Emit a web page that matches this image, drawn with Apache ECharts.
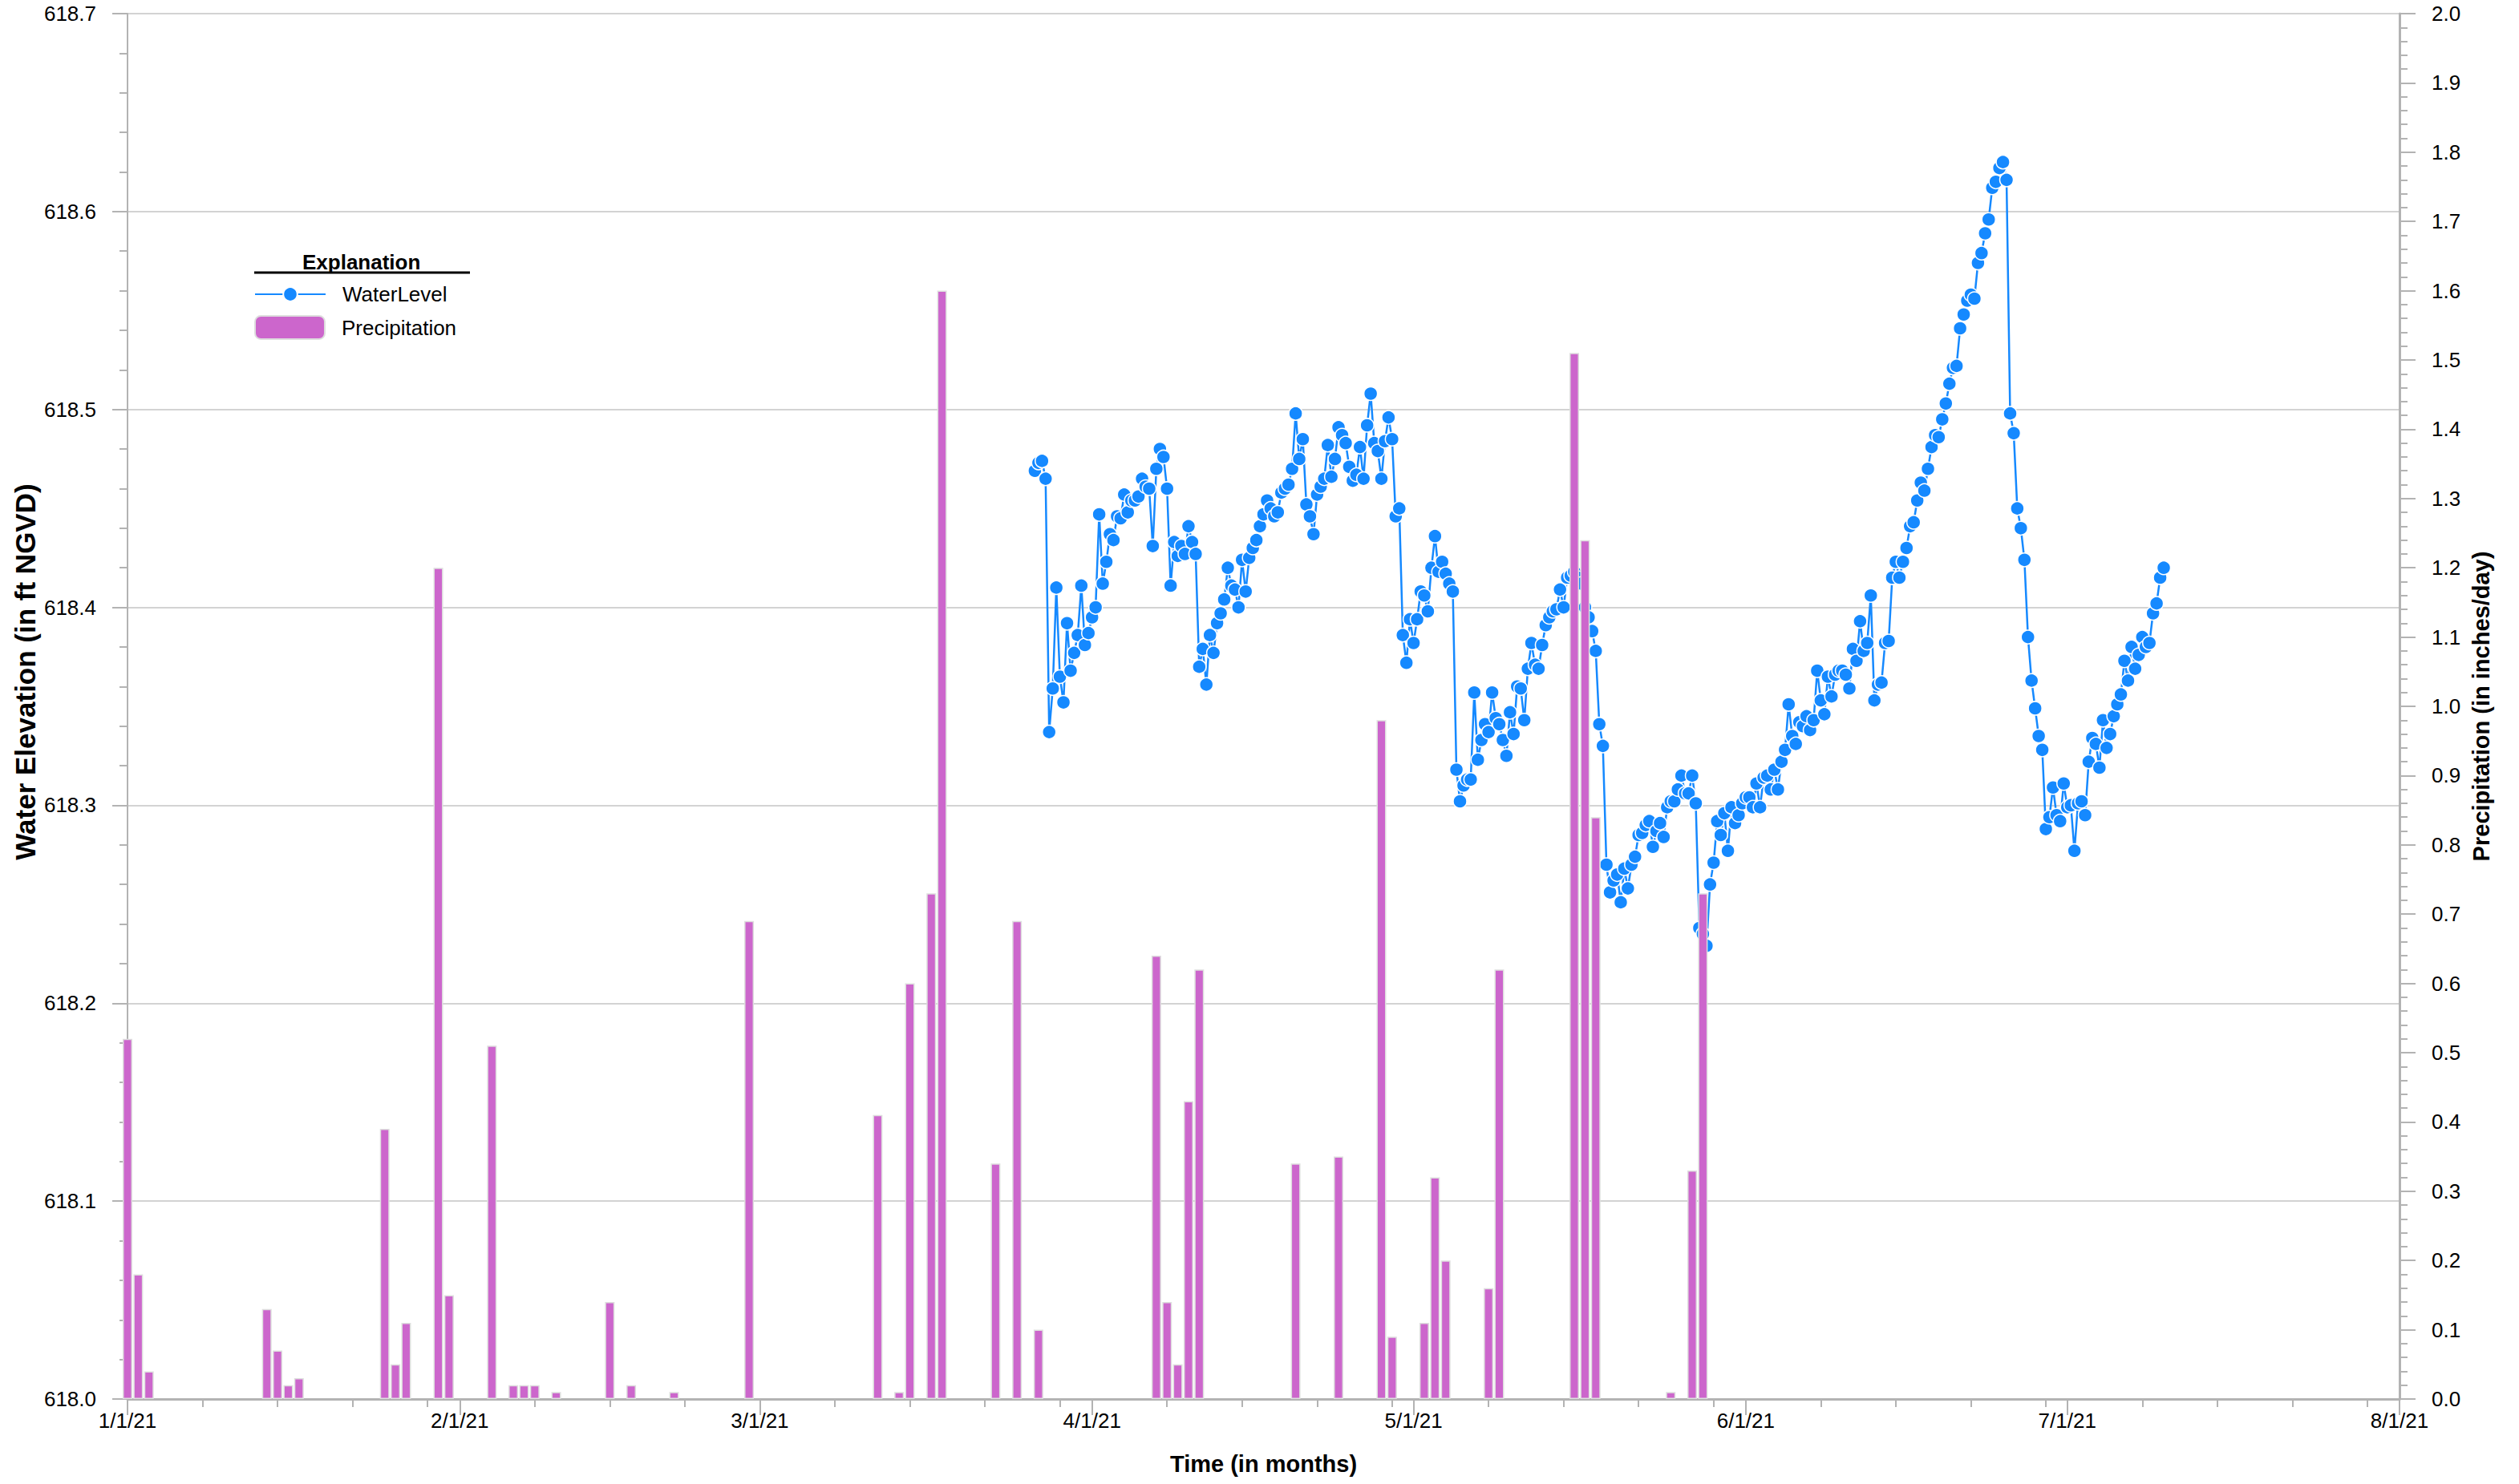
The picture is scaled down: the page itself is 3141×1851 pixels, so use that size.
<!DOCTYPE html>
<html>
<head>
<meta charset="utf-8">
<title>Water Level and Precipitation</title>
<script src="https://cdn.jsdelivr.net/npm/echarts@6/dist/echarts.min.js"></script>
<style>
  html, body { margin: 0; padding: 0; background: #ffffff; }
  #chart { width: 3141px; height: 1851px; }
</style>
</head>
<body>
<div id="chart"></div>
<script>
// Month boundaries on the time axis and their labels
const monthTicks = ['2021-01-01', '2021-02-01', '2021-03-01', '2021-04-01', '2021-05-01', '2021-06-01', '2021-07-01', '2021-08-01'];
const monthLabels = ['1/1/21', '2/1/21', '3/1/21', '4/1/21', '5/1/21', '6/1/21', '7/1/21', '8/1/21'];
// Days of each month that carry a small weekly tick
const weekTickDays = [8, 15, 22, 29];

// Daily precipitation (inches/day); days without rain are omitted
const precipDates = [
  '2021-01-01', '2021-01-02', '2021-01-03', '2021-01-14', '2021-01-15', '2021-01-16', '2021-01-17',
  '2021-01-25', '2021-01-26', '2021-01-27', '2021-01-30', '2021-01-31',
  '2021-02-04', '2021-02-06', '2021-02-07', '2021-02-08', '2021-02-10', '2021-02-15', '2021-02-17',
  '2021-02-21', '2021-02-28',
  '2021-03-12', '2021-03-14', '2021-03-15', '2021-03-17', '2021-03-18', '2021-03-23', '2021-03-25', '2021-03-27',
  '2021-04-07', '2021-04-08', '2021-04-09', '2021-04-10', '2021-04-11', '2021-04-20', '2021-04-24',
  '2021-04-28', '2021-04-29',
  '2021-05-02', '2021-05-03', '2021-05-04', '2021-05-08', '2021-05-09', '2021-05-16', '2021-05-17',
  '2021-05-18', '2021-05-25', '2021-05-27', '2021-05-28'
];
const precipValues = [
  0.52, 0.18, 0.04, 0.13, 0.07, 0.02, 0.03,
  0.39, 0.05, 0.11, 1.20, 0.15,
  0.51, 0.02, 0.02, 0.02, 0.01, 0.14, 0.02,
  0.01, 0.69,
  0.41, 0.01, 0.60, 0.73, 1.60, 0.34, 0.69, 0.10,
  0.64, 0.14, 0.05, 0.43, 0.62, 0.34, 0.35,
  0.98, 0.09,
  0.11, 0.32, 0.20, 0.16, 0.62, 1.51, 1.24,
  0.84, 0.01, 0.33, 0.73
];

// Water level record (ft NGVD), logged every 8 hours from the start time
const levelStart = [2021, 3, 26, 16];
const levelStepHours = 8;
const levelValues = [
  618.469, 618.473, 618.474, 618.465, 618.337, 618.359, 618.410, 618.365, 618.352, 618.392,
  618.368, 618.377, 618.386, 618.411, 618.381, 618.387, 618.395, 618.400, 618.447, 618.412,
  618.423, 618.437, 618.434, 618.446, 618.445, 618.457, 618.448, 618.454, 618.454, 618.456,
  618.465, 618.461, 618.460, 618.431, 618.470, 618.480, 618.476, 618.460, 618.411, 618.433,
  618.426, 618.431, 618.427, 618.441, 618.433, 618.427, 618.370, 618.379, 618.361, 618.386,
  618.377, 618.392, 618.397, 618.404, 618.420, 618.411, 618.409, 618.400, 618.424, 618.408,
  618.425, 618.430, 618.434, 618.441, 618.447, 618.454, 618.450, 618.446, 618.448, 618.458,
  618.460, 618.462, 618.470, 618.498, 618.475, 618.485, 618.452, 618.446, 618.437, 618.457,
  618.461, 618.465, 618.482, 618.466, 618.475, 618.491, 618.487, 618.483, 618.471, 618.464,
  618.467, 618.481, 618.465, 618.492, 618.508, 618.483, 618.479, 618.465, 618.484, 618.496,
  618.485, 618.446, 618.450, 618.386, 618.372, 618.394, 618.382, 618.394, 618.408, 618.406,
  618.398, 618.420, 618.436, 618.418, 618.423, 618.417, 618.412, 618.408, 618.318, 618.302,
  618.310, 618.313, 618.313, 618.357, 618.323, 618.333, 618.341, 618.337, 618.357, 618.344,
  618.341, 618.333, 618.325, 618.347, 618.336, 618.360, 618.359, 618.343, 618.369, 618.382,
  618.371, 618.369, 618.381, 618.391, 618.395, 618.398, 618.399, 618.409, 618.400, 618.415,
  618.416, 618.418, 618.415, 618.412, 618.400, 618.395, 618.388, 618.378, 618.341, 618.330,
  618.270, 618.256, 618.262, 618.265, 618.251, 618.268, 618.258, 618.270, 618.274, 618.285,
  618.286, 618.290, 618.292, 618.279, 618.287, 618.291, 618.284, 618.299, 618.302, 618.302,
  618.308, 618.315, 618.306, 618.306, 618.315, 618.301, 618.238, 618.235, 618.229, 618.260,
  618.271, 618.292, 618.285, 618.296, 618.277, 618.299, 618.291, 618.295, 618.301, 618.304,
  618.304, 618.299, 618.311, 618.299, 618.314, 618.315, 618.308, 618.318, 618.308, 618.322,
  618.328, 618.351, 618.335, 618.331, 618.342, 618.340, 618.345, 618.338, 618.343, 618.368,
  618.353, 618.346, 618.365, 618.355, 618.366, 618.368, 618.368, 618.366, 618.359, 618.379,
  618.373, 618.393, 618.378, 618.382, 618.406, 618.353, 618.361, 618.362, 618.382, 618.383,
  618.415, 618.423, 618.415, 618.423, 618.430, 618.441, 618.443, 618.454, 618.463, 618.459,
  618.470, 618.481, 618.487, 618.486, 618.495, 618.503, 618.513, 618.521, 618.522, 618.541,
  618.548, 618.555, 618.558, 618.556, 618.574, 618.579, 618.589, 618.596, 618.612, 618.615,
  618.622, 618.625, 618.616, 618.498, 618.488, 618.450, 618.440, 618.424, 618.385, 618.363,
  618.349, 618.335, 618.328, 618.288, 618.294, 618.309, 618.295, 618.292, 618.311, 618.299,
  618.300, 618.277, 618.301, 618.302, 618.295, 618.322, 618.334, 618.331, 618.319, 618.343,
  618.329, 618.336, 618.345, 618.351, 618.356, 618.373, 618.363, 618.380, 618.369, 618.376,
  618.385, 618.380, 618.382, 618.397, 618.402, 618.415, 618.420
];

// ---- helpers ----
function dayTs(s) {
  const p = s.split('-').map(Number);
  return new Date(p[0], p[1] - 1, p[2]).getTime();
}
const HOUR = 3600 * 1000;
const monthTs = monthTicks.map(dayTs);
const weekTs = [];
for (let i = 0; i < monthTicks.length - 1; i++) {
  const p = monthTicks[i].split('-').map(Number);
  const nextStart = monthTs[i + 1];
  weekTickDays.forEach(function (d) {
    const ts = new Date(p[0], p[1] - 1, d).getTime();
    if (ts < nextStart) weekTs.push(ts);
  });
}
const levelT0 = new Date(levelStart[0], levelStart[1] - 1, levelStart[2], levelStart[3]).getTime();
const levelData = levelValues.map(function (v, i) { return [levelT0 + i * levelStepHours * HOUR, v]; });
const precipData = precipDates.map(function (d, i) { return [dayTs(d), precipValues[i]]; });

const FONT = '"Liberation Sans", Arial, Helvetica, sans-serif';
const AXIS_GRAY = '#b3b3b3';

const chart = echarts.init(document.getElementById('chart'), null, { renderer: 'svg' });

chart.setOption({
  animation: false,
  backgroundColor: '#ffffff',
  textStyle: { fontFamily: FONT },
  grid: { left: 159, right: 149, top: 17, bottom: 106, containLabel: false },
  graphic: [
    {
      // left axis title, rotated to read bottom-to-top
      type: 'text', x: 31, y: 838, rotation: Math.PI / 2,
      style: {
        text: 'Water Elevation (in ft NGVD)', font: 'bold 35px ' + FONT, fill: '#000',
        align: 'center', verticalAlign: 'middle'
      }
    },
    {
      type: 'text', left: 377, top: 314,
      style: { text: 'Explanation', font: 'bold 26px ' + FONT, fill: '#000' }
    },
    {
      type: 'line',
      shape: { x1: 317, y1: 340, x2: 586, y2: 340 },
      style: { stroke: '#000', lineWidth: 3 }
    }
  ],
  legend: [
    {
      data: ['WaterLevel'],
      left: 317, top: 352, padding: 0,
      itemWidth: 88, itemHeight: 22,
      textStyle: { fontSize: 26, color: '#000', fontFamily: FONT, lineHeight: 30, padding: [0, 0, 0, 16] },
      selectedMode: false
    },
    {
      data: ['Precipitation'],
      left: 317, top: 393, padding: 0,
      itemWidth: 87, itemHeight: 29,
      textStyle: { fontSize: 26, color: '#000', fontFamily: FONT, lineHeight: 30, padding: [0, 0, 0, 16] },
      selectedMode: false
    }
  ],
  xAxis: [
    {
      type: 'value',
      min: monthTs[0],
      max: monthTs[monthTs.length - 1],
      name: 'Time (in months)',
      nameLocation: 'middle',
      nameGap: 66,
      nameTextStyle: { fontSize: 29, fontWeight: 'bold', color: '#000', fontFamily: FONT },
      axisLine: { show: true, onZero: false, lineStyle: { color: AXIS_GRAY, width: 3 } },
      axisTick: { show: true, customValues: monthTs, length: 20, lineStyle: { color: AXIS_GRAY, width: 2 } },
      axisLabel: {
        show: true,
        customValues: monthTs,
        margin: 14,
        fontSize: 26,
        color: '#000',
        fontFamily: FONT,
        formatter: function (v) {
          const idx = monthTs.indexOf(v);
          return idx >= 0 ? monthLabels[idx] : '';
        }
      },
      splitLine: { show: false }
    },
    {
      type: 'value',
      min: monthTs[0],
      max: monthTs[monthTs.length - 1],
      position: 'bottom',
      offset: 0,
      axisLine: { show: false, onZero: false },
      axisTick: { show: true, customValues: weekTs, length: 10, lineStyle: { color: AXIS_GRAY, width: 2 } },
      axisLabel: { show: false },
      splitLine: { show: false }
    }
  ],
  yAxis: [
    {
      type: 'value',
      position: 'left',
      min: 618.0,
      max: 618.7,
      interval: 0.1,
      axisLine: { show: true, lineStyle: { color: AXIS_GRAY, width: 2 } },
      axisTick: { show: true, length: 19, lineStyle: { color: AXIS_GRAY, width: 2 } },
      minorTick: { show: true, splitNumber: 5, length: 10, lineStyle: { color: AXIS_GRAY, width: 2 } },
      axisLabel: {
        margin: 39, fontSize: 26, color: '#000', fontFamily: FONT,
        formatter: function (v) { return v.toFixed(1); }
      },
      splitLine: { show: true, lineStyle: { color: '#d3d3d3', width: 2 } }
    },
    {
      type: 'value',
      position: 'right',
      min: 0,
      max: 2.0,
      interval: 0.1,
      name: 'Precipitation (in inches/day)',
      nameLocation: 'middle',
      nameRotate: 90,
      nameGap: 83,
      nameTextStyle: { fontSize: 29, fontWeight: 'bold', color: '#000', fontFamily: FONT },
      axisLine: { show: true, lineStyle: { color: AXIS_GRAY, width: 3 } },
      axisTick: { show: true, length: 20, lineStyle: { color: AXIS_GRAY, width: 2 } },
      minorTick: { show: true, splitNumber: 5, length: 10, lineStyle: { color: AXIS_GRAY, width: 2 } },
      axisLabel: {
        margin: 40, fontSize: 26, color: '#000', fontFamily: FONT,
        formatter: function (v) { return v.toFixed(1); }
      },
      splitLine: { show: false }
    }
  ],
  series: [
    {
      name: 'WaterLevel',
      type: 'line',
      xAxisIndex: 0,
      yAxisIndex: 0,
      data: levelData,
      z: 2,
      symbol: 'circle',
      symbolSize: 17,
      showAllSymbol: true,
      lineStyle: { color: '#1589ff', width: 2.5 },
      itemStyle: { color: '#1589ff', borderColor: '#ffffff', borderWidth: 1.5 }
    },
    {
      name: 'Precipitation',
      type: 'bar',
      xAxisIndex: 0,
      yAxisIndex: 1,
      data: precipData,
      z: 3,
      clip: false,
      barWidth: 12,
      itemStyle: { color: '#cc66cc', borderColor: '#dedede', borderWidth: 1.5 }
    }
  ]
});
</script>
</body>
</html>
